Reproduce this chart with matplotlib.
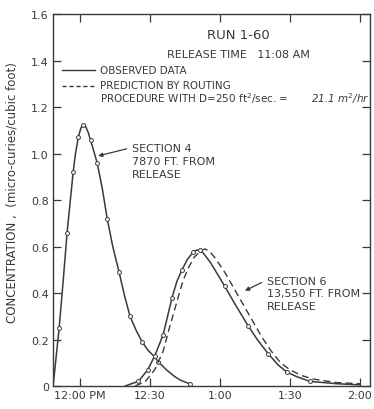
import matplotlib
matplotlib.use("Agg")
import matplotlib.pyplot as plt

# minutes after 12:00 noon
sec4_t = [-11.6, -9.0, -7.3, -5.6, -4.2, -3.0, -2.0, -0.8, 0.3, 1.2, 2.2, 3.5, 5.0, 7.3, 9.5, 11.6, 14.0, 16.7,
          19.0, 21.4, 24.0, 26.6, 29.0, 31.5, 34.0, 37.0, 40.0, 43.0, 47.0]
sec4_c = [0.0, 0.25, 0.45, 0.66, 0.80, 0.92, 1.00, 1.07, 1.11, 1.125, 1.12, 1.09, 1.04, 0.96, 0.85, 0.72, 0.60, 0.49,
          0.39, 0.30, 0.24, 0.19, 0.155, 0.13, 0.10, 0.07, 0.045, 0.025, 0.01]
sec4_mark_t = [-9.0, -5.6, -3.0, -0.8, 1.2, 4.5, 7.3, 11.6, 16.7, 21.4, 26.6, 33.4, 47.0]
sec4_mark_c = [0.25, 0.66, 0.92, 1.07, 1.125, 1.06, 0.96, 0.72, 0.49, 0.30, 0.19, 0.105, 0.01]

sec6_t = [19.3, 22.0, 25.0, 29.0, 32.0, 35.6, 37.5, 39.4, 41.5, 43.7, 46.0, 48.4, 50.0, 51.4, 53.0, 56.0, 59.0,
          62.0, 66.0, 69.0, 72.0, 76.0, 80.6, 85.0, 88.7, 93.0, 98.6, 110.0, 120.0]
sec6_c = [0.0, 0.01, 0.02, 0.07, 0.13, 0.22, 0.30, 0.38, 0.45, 0.50, 0.545, 0.575, 0.585, 0.585, 0.57, 0.53, 0.48,
          0.43, 0.36, 0.31, 0.26, 0.20, 0.14, 0.09, 0.06, 0.04, 0.02, 0.01, 0.005]
sec6_mark_t = [25.0, 29.0, 32.0, 35.6, 39.4, 43.7, 48.4, 51.4, 62.0, 72.0, 80.6, 88.7, 98.6]
sec6_mark_c = [0.02, 0.07, 0.13, 0.22, 0.38, 0.50, 0.575, 0.585, 0.43, 0.26, 0.14, 0.06, 0.02]

pred6_t = [23.6, 28.0, 32.0, 35.6, 38.0, 40.0, 42.0, 44.0, 46.5, 49.0, 51.5, 53.5, 55.5, 58.0, 62.0, 66.0, 70.0,
           74.0, 78.0, 82.0, 86.0, 90.0, 95.0, 100.0, 110.0, 120.0]
pred6_c = [0.0, 0.02, 0.07, 0.15, 0.24, 0.31, 0.38, 0.45, 0.51, 0.555, 0.58, 0.59, 0.58, 0.55, 0.49, 0.42, 0.35,
           0.28, 0.21, 0.15, 0.10, 0.07, 0.045, 0.03, 0.015, 0.01]

x_ticks = [0, 30, 60, 90, 120]
x_labels = ["12:00 PM", "12:30", "1:00", "1:30", "2:00"]
y_ticks = [0, 0.2, 0.4, 0.6, 0.8, 1.0, 1.2, 1.4, 1.6]
y_labels = ["0", "0.2", "0.4", "0.6", "0.8", "1.0", "1.2", "1.4", "1.6"]

ink = "#3a3a3a"
fs = 8

fig = plt.figure(figsize=(3.74, 4.10), dpi=100)
ax = fig.add_axes([0.142, 0.056, 0.847, 0.907])

ax.plot(sec4_t, sec4_c, color=ink, lw=1.1)
ax.plot(sec4_mark_t, sec4_mark_c, 'o', ms=2.8, mfc='white', mec=ink, mew=0.7)
ax.plot(pred6_t, pred6_c, color=ink, lw=1.0, ls=(0, (5, 3)))
ax.plot(sec6_t, sec6_c, color=ink, lw=1.1)
ax.plot(sec6_mark_t, sec6_mark_c, 'o', ms=2.8, mfc='white', mec=ink, mew=0.7)

ax.set_xlim(-11.6, 124.3)
ax.set_ylim(0, 1.6)
ax.set_xticks(x_ticks)
ax.set_xticklabels(x_labels, fontsize=fs, color=ink)
ax.set_yticks(y_ticks)
ax.set_yticklabels(y_labels, fontsize=fs, color=ink)
ax.tick_params(direction='in', length=6, width=0.9, color=ink,
               top=True, right=True, pad=3)
for s in ax.spines.values():
    s.set_color(ink)
    s.set_linewidth(1.0)

ax.set_ylabel("CONCENTRATION ,  (micro-curies/cubic foot)", fontsize=8.5, color=ink)
ax.yaxis.set_label_coords(-0.11, 0.524)

ax.text(0.584, 0.962, "RUN 1-60", transform=ax.transAxes, ha='center', va='top', fontsize=9.5, color=ink)
ax.text(0.584, 0.906, "RELEASE TIME   11:08 AM", transform=ax.transAxes, ha='center', va='top', fontsize=8, color=ink)

# legend drawn by hand
lfs = 7.5
ax.plot([-7.7, 6.4], [1.36, 1.36], color=ink, lw=1.0)
ax.text(8.6, 1.36, "OBSERVED DATA", fontsize=lfs, color=ink, va='center')
ax.plot([-7.7, 6.4], [1.29, 1.29], color=ink, lw=1.0, ls=(0, (3, 2)))
ax.text(8.6, 1.295, "PREDICTION BY ROUTING", fontsize=lfs, color=ink, va='center')
ax.text(8.6, 1.24, "PROCEDURE WITH D=250 ft$^2$/sec. = ", fontsize=lfs, color=ink, va='center')
ax.text(99, 1.24, "21.1 m$^2$/hr", fontsize=lfs, color=ink, va='center', style='italic')

ax.annotate("SECTION 4\n7870 FT. FROM\nRELEASE", xy=(7.7, 0.99), xytext=(22.3, 1.045),
            fontsize=fs, color=ink, va='top', ha='left', linespacing=1.35,
            arrowprops=dict(arrowstyle='-|>', color=ink, lw=0.9, shrinkA=2, shrinkB=0,
                            mutation_scale=6, relpos=(0, 0.88)))
ax.annotate("SECTION 6\n13,550 FT. FROM\nRELEASE", xy=(70.7, 0.41), xytext=(80.1, 0.475),
            fontsize=fs, color=ink, va='top', ha='left', linespacing=1.35,
            arrowprops=dict(arrowstyle='-|>', color=ink, lw=0.9, shrinkA=2, shrinkB=0,
                            mutation_scale=6, relpos=(0, 0.88)))

fig.savefig("out.png", dpi=100)
